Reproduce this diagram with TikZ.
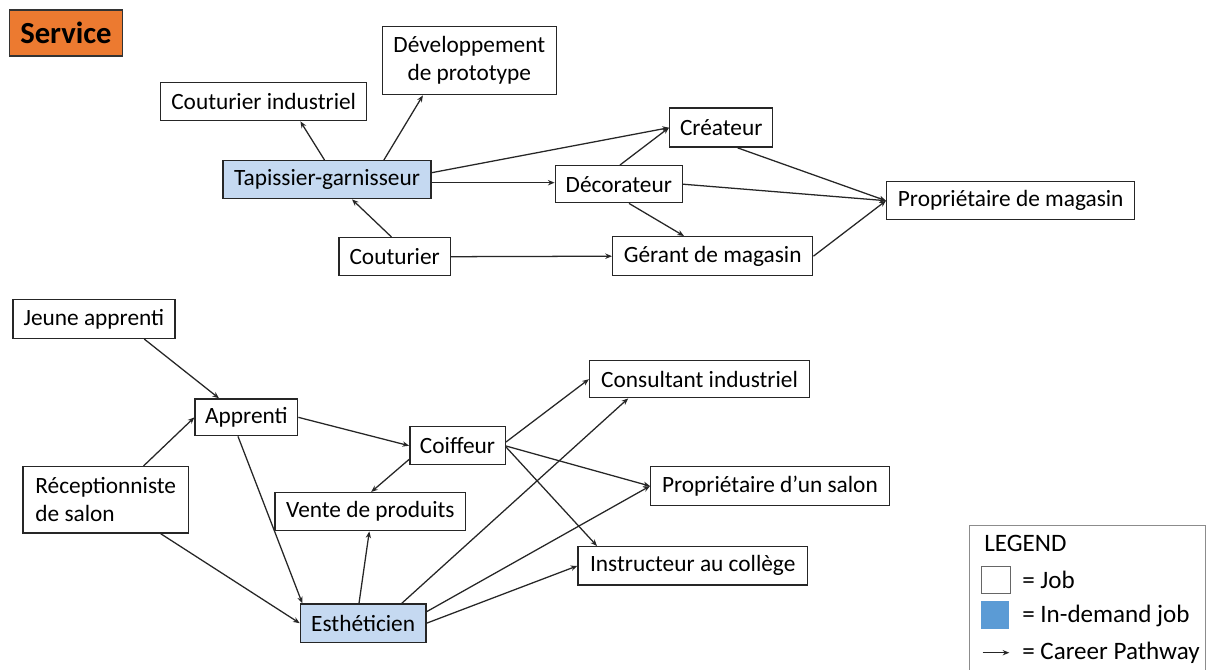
\documentclass[tikz,border=0pt]{standalone}
\usepackage{fontspec}
\setmainfont{Carlito}
\usetikzlibrary{arrows.meta,calc}
\definecolor{lightblue}{HTML}{C5D9F1}
\definecolor{legblue}{HTML}{5B9BD5}
\definecolor{svcorange}{HTML}{EC7A30}
\begin{document}
\begin{tikzpicture}[x=0.75pt,y=-0.75pt,
  txt/.style={font=\fontsize{17.5}{21}\selectfont},
  job/.style={draw=black!85, line width=1.05pt, fill=white, inner sep=0pt, anchor=north west, txt},
  hot/.style={job, fill=lightblue},
  sz/.style 2 args={minimum width=#1*0.75pt, minimum height=#2*0.75pt},
  path/.style={draw=black!85, line width=0.95pt, -{Stealth[length=5pt,width=4pt]}},
  legtxt/.style={font=\fontsize{18.8}{21}\selectfont, inner sep=0pt, anchor=west}]
\useasboundingbox (0,0) rectangle (1208,670);
\fill[white] (0,0) rectangle (1208,670);

% title
\node[draw=black!80, line width=1.05pt, fill=svcorange, inner sep=0pt, anchor=north west, sz={113}{46},
  font=\fontsize{23}{26}\selectfont\bfseries] (service) at (8.8,9.5) {Service};

% upper cluster
\node[job, sz={206}{38}] (ci) at (160,82) {Couturier industriel};
\node[job, sz={174}{68}, align=center] (dev) at (381.6,26) {Développement\\de prototype};
\node[hot, sz={208}{38}] (tap) at (222.3,160) {Tapissier-garnisseur};
\node[job, sz={111.4}{38}] (cou) at (338.3,237) {Couturier};
\node[job, sz={103}{39}] (cre) at (669,107.5) {Créateur};
\node[job, sz={127}{37}] (dec) at (554.6,165) {Décorateur};
\node[job, sz={200}{39}] (ger) at (612,236) {Gérant de magasin};
\node[job, sz={248}{38}] (pm) at (886,181) {Propriétaire de magasin};

% lower cluster
\node[job, sz={162}{38.7}] (ja) at (12.2,299) {Jeune apprenti};
\node[job, sz={102.6}{36.7}] (app) at (194.4,398.3) {Apprenti};
\node[job, sz={95.5}{38}] (coi) at (409.1,426) {Coiffeur};
\node[job, sz={165.7}{66.3}, align=left] (rec) at (22.2,466) {Réceptionniste\\de salon};
\node[job, sz={190.6}{38}] (ven) at (274.4,492) {Vente de produits};
\node[hot, sz={125.5}{38.4}] (est) at (299.7,603.3) {Esthéticien};
\node[job, sz={220}{37}] (con) at (588.9,360) {Consultant industriel};
\node[job, sz={238.5}{38.7}] (ps) at (650,466) {Propriétaire d’un salon};
\node[job, sz={229.3}{38.3}] (ins) at (577.4,546) {Instructeur au collège};

% upper edges
\draw[path] ($(tap.north west)+(102.2,0)$) -- ($(ci.south west)+(140.4,0)$);
\draw[path] ($(tap.north west)+(161.6,0)$) -- ($(dev.south west)+(41.3,0)$);
\draw[path] ($(tap.north east)+(0,12.7)$) -- (cre.west);
\draw[path] ($(tap.north east)+(0,22.7)$) -- ($(dec.north west)+(0,17.7)$);
\draw[path] ($(cou.north west)+(53.2,0)$) -- ($(tap.south west)+(129.7,0)$);
\draw[path] (cou.east) -- (ger.west);
\draw[path] ($(dec.north west)+(65.4,0)$) -- (cre.west);
\draw[path] (dec.east) -- (pm.west);
\draw[path] ($(cre.south west)+(68.7,0)$) -- (pm.west);
\draw[path] ($(dec.south west)+(74.4,0)$) -- ($(ger.north west)+(72,0)$);
\draw[path] (ger.east) -- (pm.west);

% lower edges
\draw[path] ($(ja.south west)+(132.1,0)$) -- ($(app.north west)+(24.6,0)$);
\draw[path] ($(rec.north west)+(121.3,0)$) -- (app.west);
\draw[path] (app.east) -- (coi.west);
\draw[path] ($(app.south west)+(43.6,0)$) -- ($(est.north west)+(2.6,0)$);
\draw[path] ($(rec.south west)+(138.5,0)$) -- (est.west);
\draw[path] ($(coi.south west)+(0,-6)$) -- ($(ven.north west)+(96.8,0)$);
\draw[path] ($(est.north west)+(59.3,0)$) -- ($(ven.south west)+(94.9,0)$);
\draw[path] ($(est.north west)+(102.1,0)$) -- ($(con.south west)+(39.3,0)$);
\draw[path] ($(est.north east)+(0,8.4)$) -- (ps.west);
\draw[path] (est.east) -- (ins.west);
\draw[path] ($(coi.north east)+(0,16)$) -- (con.west);
\draw[path] ($(coi.north east)+(0,20)$) -- (ps.west);
\draw[path] ($(coi.north east)+(0,21)$) -- ($(ins.north west)+(19.6,0)$);

% legend
\draw[draw=black!45, line width=0.9pt] (969.3,672) -- (969.3,525.7) -- (1205.5,525.7) -- (1205.5,672);
\node[legtxt] (legtitle) at (984,543) {LEGEND};
\node[draw=black!60, line width=0.8pt, fill=white, inner sep=0pt, anchor=north west, sz={29}{27.6}] (legjob) at (980.7,565.7) {};
\node[legtxt] (legjobtxt) at (1022,579.5) {= Job};
\node[fill=legblue, inner sep=0pt, anchor=north west, sz={28.3}{28}] (leghot) at (980.7,601) {};
\node[legtxt] (leghottxt) at (1022,615.5) {= In-demand job};
\coordinate (legA) at (982.7,652.7);
\coordinate (legB) at (1009.3,652.7);
\draw[path] (legA) -- (legB);
\node[legtxt] (legpathtxt) at (1022,652.7) {= Career Pathway};
\end{tikzpicture}
\end{document}
